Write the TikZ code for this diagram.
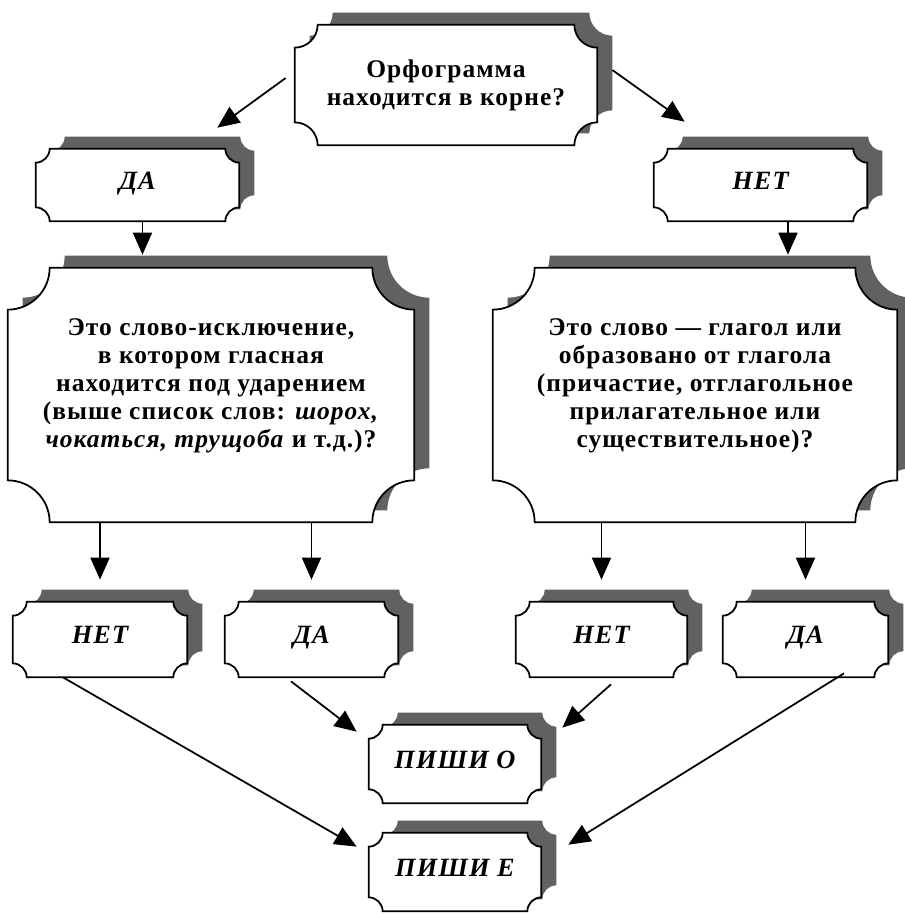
\documentclass[tikz,border=0pt]{standalone}
\usepackage{fontspec}
\setmainfont[LetterSpace=4]{Liberation Serif}
\usetikzlibrary{arrows.meta, positioning, calc, backgrounds}

\tikzset{
  ticket/.style={inner sep=0pt, align=center, font=\fontsize{14.5}{15.9}\selectfont\bfseries},
  answer/.style={ticket, font=\fontsize{15}{18}\selectfont\bfseries\itshape, text height=0.7em, text depth=0.2em},
  arr/.style={-{Triangle[length=0.44cm, width=0.38cm]}, line width=1pt},
  shadowfill/.style={fill=black!62},
}

% box with concave corners: node, corner radius, x offset, y offset
\newcommand{\ticketpath}[4]{%
  let \p1=(#1.south west), \p2=(#1.north east) in
  (\x1+#3,\y1+#4+#2) -- (\x1+#3,\y2+#4-#2) arc[start angle=270, end angle=360, radius=#2]
  -- (\x2+#3-#2,\y2+#4) arc[start angle=180, end angle=270, radius=#2]
  -- (\x2+#3,\y1+#4+#2) arc[start angle=90, end angle=180, radius=#2]
  -- (\x1+#3+#2,\y1+#4) arc[start angle=0, end angle=90, radius=#2] -- cycle}

\begin{document}
\begin{tikzpicture}[x=0.02cm, y=-0.02cm]
  \useasboundingbox (0,0) rectangle (904,914);

  \node[ticket, minimum width=6.04cm, minimum height=2.4cm] (q) at (446,85) {Орфограмма\\находится в корне?};
  \node[answer, minimum width=4.06cm, minimum height=1.44cm] (yes) at (137.5,185) {ДА};
  \node[answer, minimum width=4.26cm, minimum height=1.44cm] (no) at (760.5,185) {НЕТ};

  \node[ticket, minimum width=8.12cm, minimum height=5.08cm] (excl) at (211,395)
    {Это слово-исключение,\\в котором гласная\\находится под ударением\\(выше список слов: \textit{шорох,}\\\textit{чокаться, трущоба} и т.д.)?\\[-2pt]\mbox{}};
  \node[ticket, minimum width=8.08cm, minimum height=5.08cm] (verb) at (695,395)
    {Это слово — глагол или\\образовано от глагола\\(причастие, отглагольное\\прилагательное или\\существительное)?\\[-2pt]\mbox{}};

  \node[answer, minimum width=3.48cm, minimum height=1.5cm] (exclno) at (100,639.5) {НЕТ};
  \node[answer, minimum width=3.46cm, minimum height=1.5cm] (exclyes) at (311.5,639.5) {ДА};
  \node[answer, minimum width=3.42cm, minimum height=1.5cm] (verbno) at (601.5,639.5) {НЕТ};
  \node[answer, minimum width=3.3cm, minimum height=1.5cm] (verbyes) at (805.5,639.5) {ДА};

  \node[answer, minimum width=3.44cm, minimum height=1.56cm] (writeo) at (455,764) {ПИШИ О};
  \node[answer, minimum width=3.44cm, minimum height=1.56cm] (writee) at (455,872) {ПИШИ Е};

  \begin{scope}[on background layer]
    \foreach \b/\r in {q/0.46cm, yes/0.28cm, no/0.28cm, excl/0.84cm, verb/0.84cm,
        exclno/0.28cm, exclyes/0.28cm, verbno/0.28cm, verbyes/0.28cm,
        writeo/0.28cm, writee/0.28cm} {
      \fill[shadowfill] \ticketpath{\b}{\r}{0.3cm}{0.24cm};
      \filldraw[fill=white, line width=1pt] \ticketpath{\b}{\r}{0cm}{0cm};
    }
  \end{scope}

  \draw[arr] ([shift={(-0.18cm,0.14cm)}]q.west) -- ([shift={(-0.44cm,0.42cm)}]yes.north east);
  \draw[arr] ([shift={(0.3cm,0.3cm)}]q.east) -- ([shift={(0.62cm,0.54cm)}]no.north west);

  \draw[arr, shorten >=0.26cm] ([xshift=0.1cm]yes.south) -- ([xshift=0.1cm]yes.south |- excl.north);
  \draw[arr, shorten >=0.26cm] ([xshift=0.55cm]no.south) -- ([xshift=0.55cm]no.south |- verb.north);

  \draw[arr, shorten >=0.44cm] (excl.south -| exclno) -- (exclno.north);
  \draw[arr, shorten >=0.44cm] (excl.south -| exclyes) -- (exclyes.north);
  \draw[arr, shorten >=0.44cm] (verb.south -| verbno) -- (verbno.north);
  \draw[arr, shorten >=0.44cm] (verb.south -| verbyes) -- (verbyes.north);

  \draw[arr] ([shift={(-0.74cm,0cm)}]exclno.south) -- ([shift={(-0.24cm,-0.28cm)}]writee.north west);
  \draw[arr] ([shift={(-0.41cm,-0.08cm)}]exclyes.south) -- ([shift={(-0.24cm,-0.14cm)}]writeo.north west);
  \draw[arr] ([shift={(0.19cm,-0.14cm)}]verbno.south) -- ([shift={(0.42cm,-0.06cm)}]writeo.north east);
  \draw[arr] ([shift={(0.77cm,0.08cm)}]verbyes.south) -- ([shift={(0.54cm,-0.24cm)}]writee.north east);
\end{tikzpicture}
\end{document}
